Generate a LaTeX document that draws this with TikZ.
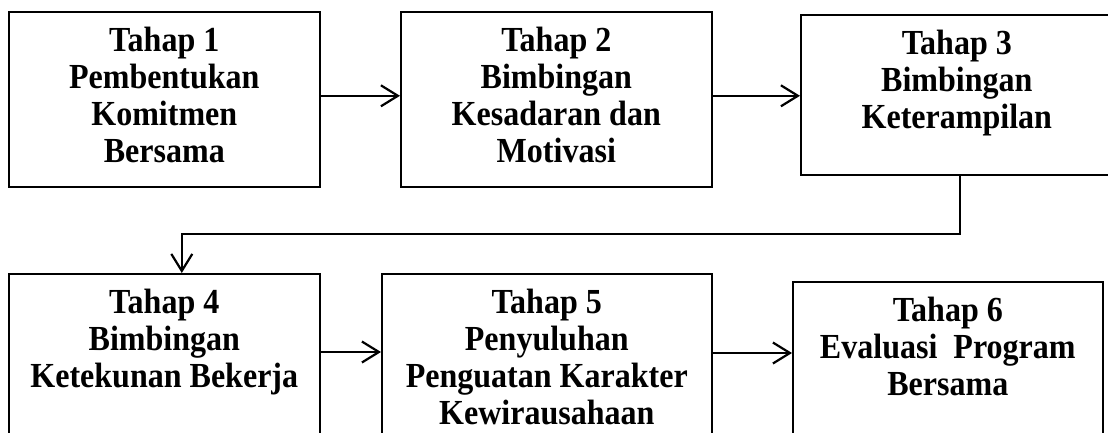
\documentclass[tikz,border=0pt]{standalone}
\usepackage{fontspec}
\setmainfont{Liberation Serif}[FakeStretch=0.91]
\usetikzlibrary{arrows.meta}
\newcommand\stagetext[3]{\parbox[c][#2][t]{#1}{\centering\rule{0pt}{40pt}#3}}
\begin{document}
\begin{tikzpicture}[x=1pt,y=-1pt,
  stagebox/.style={draw, line width=1.6pt, inner sep=0pt, anchor=north west,
    font=\fontsize{35.2}{37}\selectfont\bfseries},
  arr/.style={line width=2.2pt, -{Straight Barb[length=17pt,width=21pt,line width=2.2pt]}}]
\useasboundingbox (0,0) rectangle (1108,432);
\clip (0,0) rectangle (1108,432);
\node[stagebox] (b1) at (8,11) {\stagetext{311pt}{175pt}{Tahap 1\\Pembentukan\\Komitmen\\Bersama}};
\node[stagebox] (b2) at (400,11) {\stagetext{311pt}{175pt}{Tahap 2\\Bimbingan\\Kesadaran dan\\Motivasi}};
\node[stagebox] (b3) at (800,14) {\stagetext{312pt}{160pt}{Tahap 3\\Bimbingan\\Keterampilan}};
\node[stagebox] (b4) at (8,273) {\stagetext{311pt}{180pt}{Tahap 4\\Bimbingan\\Ketekunan Bekerja}};
\node[stagebox] (b5) at (381,273) {\stagetext{330pt}{180pt}{Tahap 5\\Penyuluhan\\Penguatan Karakter\\Kewirausahaan}};
\node[stagebox] (b6) at (792,281) {\stagetext{310pt}{180pt}{Tahap 6\\Evaluasi\ \ Program\\Bersama}};
\draw[arr] ([yshift=3.5pt]b1.east) coordinate (s1) -- (s1 -| b2.west);
\draw[arr] ([yshift=3.5pt]b2.east) coordinate (s2) -- (s2 -| b3.west);
\draw[arr] ([xshift=3pt]b3.south) -- ++(0,58) -| ([xshift=17.5pt]b4.north);
\draw[arr] ([yshift=-79pt]b4.north east) coordinate (s4) -- (s4 -| b5.west);
\draw[arr] ([yshift=-80pt]b5.north east) coordinate (s5) -- (s5 -| b6.west);
\end{tikzpicture}
\end{document}
